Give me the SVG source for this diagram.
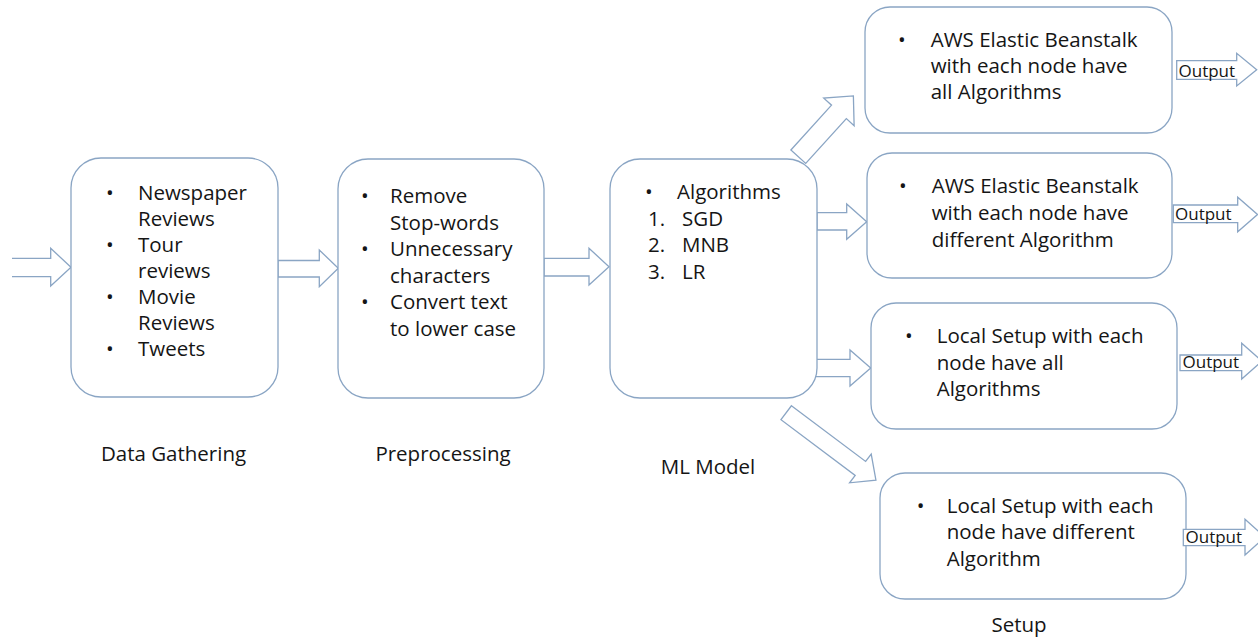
<svg xmlns="http://www.w3.org/2000/svg" width="1258" height="640" viewBox="0 0 1258 640">
  <style>
    .box { fill: #ffffff; stroke: #8aa5c4; stroke-width: 1.3; }
    .arrow { fill: #ffffff; stroke: #8aa5c4; stroke-width: 1.3; stroke-linejoin: miter; }
    .txt { font-family: "Open Sans", "Liberation Sans", sans-serif; font-size: 20.5px; fill: #151515; }
    .lbl { font-family: "Open Sans", "Liberation Sans", sans-serif; font-size: 20.5px; fill: #151515; text-anchor: middle; }
    .out { font-family: "Open Sans", "Liberation Sans", sans-serif; font-size: 17px; fill: #151515; }
  </style>
  <rect width="1258" height="640" fill="#ffffff"/>

  <!-- block-arrow connectors -->
  <g id="connectors">
    <path class="arrow" d="M12,258.3 H50.7 V248.3 L71,267.3 L50.7,286 V276.7 H12"/>
    <path class="arrow" d="M278,260.5 H319.3 V250 L338.3,268.3 L319.3,286.7 V277 H278 Z"/>
    <path class="arrow" d="M544,258.3 H589 V248.3 L609,266.7 L589,285 V276 H544 Z"/>
    <path class="arrow" transform="translate(798.3,156.7) rotate(-47.8)" d="M0,-10 H60.5 V-20.5 L82,0 L60.5,20.5 V10 H0 Z"/>
    <path class="arrow" d="M817,212.7 H846.7 V204 L866.7,221.7 L846.7,239.3 V230 H817 Z"/>
    <path class="arrow" d="M815,359.3 H850 V350 L870.7,368 L850,386 V376.7 H815 Z"/>
    <path class="arrow" transform="translate(786.2,412.7) rotate(36.9)" d="M0,-8.7 H92.8 V-18 L112.2,0 L92.8,18 V8.7 H0 Z"/>
  </g>

  <g id="data-gathering">
    <rect class="box" x="71" y="158" width="207" height="239" rx="30"/>
    <text class="txt" x="106" y="200">•</text>
    <text class="txt" x="138" y="200">Newspaper</text>
    <text class="txt" x="138" y="226">Reviews</text>
    <text class="txt" x="106" y="252">•</text>
    <text class="txt" x="138" y="252">Tour</text>
    <text class="txt" x="138" y="278">reviews</text>
    <text class="txt" x="106" y="304">•</text>
    <text class="txt" x="138" y="304">Movie</text>
    <text class="txt" x="138" y="329.5">Reviews</text>
    <text class="txt" x="106" y="355.5">•</text>
    <text class="txt" x="138" y="355.5">Tweets</text>
    <text class="lbl" x="173.5" y="461">Data Gathering</text>
  </g>

  <g id="preprocessing">
    <rect class="box" x="338" y="159" width="206" height="239" rx="30"/>
    <text class="txt" x="361" y="203">•</text>
    <text class="txt" x="390" y="203">Remove</text>
    <text class="txt" x="390" y="229.5">Stop-words</text>
    <text class="txt" x="361" y="256">•</text>
    <text class="txt" x="390" y="256">Unnecessary</text>
    <text class="txt" x="390" y="282.5">characters</text>
    <text class="txt" x="361" y="309">•</text>
    <text class="txt" x="390" y="309">Convert text</text>
    <text class="txt" x="390" y="335.5">to lower case</text>
    <text class="lbl" x="443" y="461">Preprocessing</text>
  </g>

  <g id="ml-model">
    <rect class="box" x="610" y="159" width="207" height="239" rx="30"/>
    <text class="txt" x="645" y="199">•</text>
    <text class="txt" x="677" y="199">Algorithms</text>
    <text class="txt" x="648" y="225.5">1.</text>
    <text class="txt" x="682" y="225.5">SGD</text>
    <text class="txt" x="648" y="252">2.</text>
    <text class="txt" x="682" y="252">MNB</text>
    <text class="txt" x="648" y="278.5">3.</text>
    <text class="txt" x="682" y="278.5">LR</text>
    <text class="lbl" x="708" y="474">ML Model</text>
  </g>

  <g id="aws-all">
    <rect class="box" x="865" y="7" width="307" height="126" rx="25"/>
    <text class="txt" x="898" y="46.7">•</text>
    <text class="txt" x="930.7" y="46.7">AWS Elastic Beanstalk</text>
    <text class="txt" x="930.7" y="73.3">with each node have</text>
    <text class="txt" x="930.7" y="99.3">all Algorithms</text>
  </g>

  <g id="aws-different">
    <rect class="box" x="867" y="153" width="305" height="125" rx="25"/>
    <text class="txt" x="899" y="193.3">•</text>
    <text class="txt" x="931.7" y="193.3">AWS Elastic Beanstalk</text>
    <text class="txt" x="931.7" y="220">with each node have</text>
    <text class="txt" x="931.7" y="246.7">different Algorithm</text>
  </g>

  <g id="local-all">
    <rect class="box" x="871" y="303" width="306" height="126" rx="25"/>
    <text class="txt" x="905" y="343.3">•</text>
    <text class="txt" x="936.7" y="343.3">Local Setup with each</text>
    <text class="txt" x="936.7" y="370">node have all</text>
    <text class="txt" x="936.7" y="396">Algorithms</text>
  </g>

  <g id="local-different">
    <rect class="box" x="880" y="473" width="306" height="126" rx="25"/>
    <text class="txt" x="916.7" y="512.7">•</text>
    <text class="txt" x="946.7" y="512.7">Local Setup with each</text>
    <text class="txt" x="946.7" y="539.3">node have different</text>
    <text class="txt" x="946.7" y="565.7">Algorithm</text>
    <text class="lbl" x="1019" y="632">Setup</text>
  </g>

  <!-- output block arrows -->
  <g id="output-1">
    <path class="arrow" d="M1176.7,60.7 H1236.7 V53.3 L1256.7,69.7 L1236.7,86 V79.3 H1176.7 Z"/>
    <text class="out" x="1178.5" y="76.5">Output</text>
  </g>
  <g id="output-2">
    <path class="arrow" d="M1173.3,205 H1237.7 V197.3 L1257.5,214.5 L1237.7,231.7 V222.7 H1173.3 Z"/>
    <text class="out" x="1175" y="220">Output</text>
  </g>
  <g id="output-3">
    <path class="arrow" d="M1180,355 H1241.7 V343.3 L1262,361.2 L1241.7,379 V370.7 H1180 Z"/>
    <text class="out" x="1182.5" y="368.3">Output</text>
  </g>
  <g id="output-4">
    <path class="arrow" d="M1183.3,529.3 H1245 V519.3 L1265,537.2 L1245,555 V545.7 H1183.3 Z"/>
    <text class="out" x="1185.5" y="543.3">Output</text>
  </g>
</svg>
